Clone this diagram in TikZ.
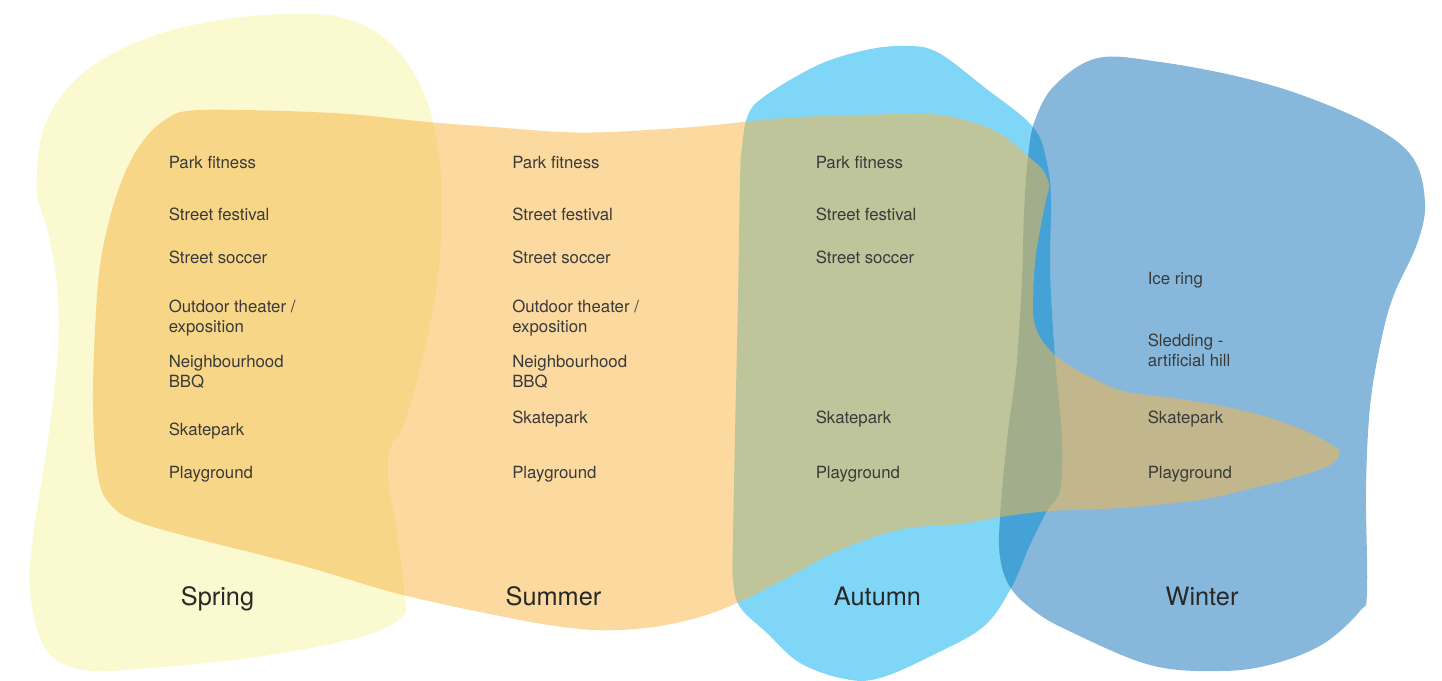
\documentclass[tikz,border=0pt]{standalone}
\usepackage{fontspec}
\setmainfont{TeX Gyre Heros}
\definecolor{springc}{RGB}{250,249,207}
\definecolor{autumnc}{RGB}{0,174,239}
\definecolor{winterc}{RGB}{5,106,181}
\definecolor{summerc}{RGB}{247,182,70}
\definecolor{txt}{RGB}{58,58,58}
\definecolor{stxt}{RGB}{40,40,40}
\begin{document}
\begin{tikzpicture}[x=0.75pt,y=-0.75pt,
  item/.style={anchor=base west, inner sep=0pt, font=\fontsize{12.6}{15}\selectfont, text=txt, align=left},
  season/.style={anchor=base, inner sep=0pt, font=\fontsize{19}{23}\selectfont, text=stxt}]
\useasboundingbox (0,0) rectangle (1442,681);
% Spring blob
\fill[springc] plot[smooth cycle, tension=0.6] coordinates {
 (310,14) (350,20) (383,37) (410,67) (430,110) (440,167) (441,233) (436,290)
 (421,365) (402,428) (391,446) (388,478) (398,540) (405,598) (402,617) (367,635)
 (300,650) (233,660) (150,668) (83,670) (45,648) (30,590) (34,530) (48,440)
 (58,350) (57,285) (48,232) (37,190) (45,125) (83,73) (150,37) (233,18)};
% Autumn blob
\fill[autumnc, fill opacity=0.5] plot[smooth cycle, tension=0.6] coordinates {
 (866,50) (904,46) (937,52) (984,87) (1033,127) (1047,163) (1051,200) (1050,263)
 (1052,313) (1056,370) (1062,440) (1060,490) (1047,511) (1030,545) (1010,590)
 (983,627) (933,655) (880,678) (845,679) (800,663) (767,633) (740,607) (733,580)
 (733,540) (735,435) (738,300) (740,180) (742,147) (748,115) (765,96) (818,65)};
% Winter blob
\fill[winterc, fill opacity=0.48] plot[smooth cycle, tension=0.6] coordinates {
 (1098,58) (1160,62) (1240,77) (1307,97) (1373,126) (1413,158) (1425,203)
 (1417,244) (1393,297) (1380,346) (1370,407) (1366,489) (1367,591) (1360,611)
 (1323,644) (1273,664) (1221,671) (1150,665) (1067,630) (1033,610) (1010,587)
 (1000,557) (1000,517) (1007,440) (1015,380) (1018,347) (1022,280) (1024,213)
 (1028,157) (1035,120) (1055,85)};
% Summer band
\fill[summerc, fill opacity=0.52] plot[smooth cycle, tension=0.55] coordinates {
 (200,110) (333,113) (427,122) (493,127) (560,132) (610,132) (693,127) (743,122)
 (800,117) (900,114) (932,114) (965,120) (993,130) (1013,143) (1030,158)
 (1043,170) (1049,185) (1046,200) (1040,230) (1035,263) (1033,313) (1040,337)
 (1057,357) (1077,370) (1100,382) (1127,392) (1187,400) (1253,413) (1303,430)
 (1332,445) (1340,453) (1328,466) (1290,479) (1253,488) (1200,500) (1120,508)
 (1050,511) (1000,517) (960,524) (917,527) (883,534) (833,553) (783,580)
 (737,603) (700,617) (660,626) (620,630) (580,629) (520,620) (403,595)
 (300,565) (150,526) (110,504) (97,470) (93,391) (98,283) (108,225) (122,180)
 (140,145) (165,120)};
% Spring column
\node[item] (sp1) at (168.5,169) {Park fitness};
\node[item] (sp2) at (168.5,220) {Street festival};
\node[item] (sp3) at (168.5,263) {Street soccer};
\node[item] (sp4) at (168.5,332) {Outdoor theater /\\exposition};
\node[item] (sp5) at (168.5,387) {Neighbourhood\\BBQ};
\node[item] (sp6) at (168.5,435) {Skatepark};
\node[item] (sp7) at (168.5,478) {Playground};
% Summer column
\node[item] (su1) at (512,169) {Park fitness};
\node[item] (su2) at (512,220) {Street festival};
\node[item] (su3) at (512,263) {Street soccer};
\node[item] (su4) at (512,332) {Outdoor theater /\\exposition};
\node[item] (su5) at (512,387) {Neighbourhood\\BBQ};
\node[item] (su6) at (512,423) {Skatepark};
\node[item] (su7) at (512,478) {Playground};
% Autumn column
\node[item] (au1) at (815.5,169) {Park fitness};
\node[item] (au2) at (815.5,220) {Street festival};
\node[item] (au3) at (815.5,263) {Street soccer};
\node[item] (au6) at (815.5,423) {Skatepark};
\node[item] (au7) at (815.5,478) {Playground};
% Winter column
\node[item] (wi1) at (1147.5,284) {Ice ring};
\node[item] (wi2) at (1147.5,366) {Sledding -\\artificial hill};
\node[item] (wi6) at (1147.5,423) {Skatepark};
\node[item] (wi7) at (1147.5,478) {Playground};
% Season labels
\node[season] (spring) at (217.5,605) {Spring};
\node[season] (summer) at (553.5,605) {Summer};
\node[season] (autumn) at (877.5,605) {Autumn};
\node[season] (winter) at (1202,605) {Winter};
\end{tikzpicture}
\end{document}
